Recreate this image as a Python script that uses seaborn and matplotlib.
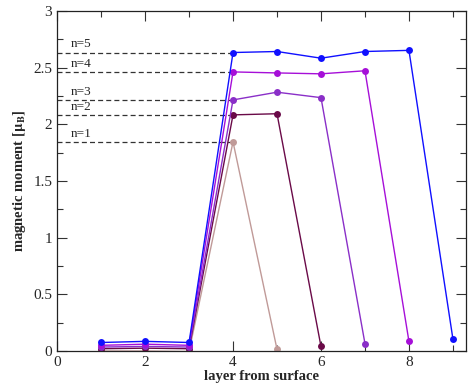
import numpy as np
import pandas as pd
import matplotlib
matplotlib.use("Agg")
from matplotlib import pyplot as plt
from matplotlib.ticker import MultipleLocator
import seaborn as sns

# magnetic moment per layer for slabs with n magnetic layers
layers_n1 = [1, 2, 3, 4, 5]
moment_n1 = [0.0, 0.0, -0.005, 1.845, 0.015]
layers_n2 = [1, 2, 3, 4, 5, 6]
moment_n2 = [0.02, 0.025, 0.02, 2.083, 2.093, 0.04]
layers_n3 = [1, 2, 3, 4, 5, 6, 7]
moment_n3 = [0.035, 0.04, 0.035, 2.215, 2.283, 2.235, 0.065]
layers_n4 = [1, 2, 3, 4, 5, 6, 7, 8]
moment_n4 = [0.05, 0.06, 0.05, 2.462, 2.453, 2.445, 2.472, 0.085]
layers_n5 = [1, 2, 3, 4, 5, 6, 7, 8, 9]
moment_n5 = [0.075, 0.085, 0.075, 2.633, 2.642, 2.583, 2.642, 2.652, 0.105]

labels = ["n=1", "n=2", "n=3", "n=4", "n=5"]
colors = ["#c09a98", "#6a0a48", "#8a2fc8", "#a60fd8", "#1010ff"]

frames = []
for lab, xs, ys in zip(labels,
                       [layers_n1, layers_n2, layers_n3, layers_n4, layers_n5],
                       [moment_n1, moment_n2, moment_n3, moment_n4, moment_n5]):
    frames.append(pd.DataFrame({"layer": xs, "moment": ys, "n": lab}))
df = pd.concat(frames, ignore_index=True)

sns.set_style("ticks")
plt.rcParams["font.family"] = ["Liberation Serif", "DejaVu Serif"]
plt.rcParams["mathtext.fontset"] = "stix"

fig = plt.figure(figsize=(4.68, 3.9), dpi=100)
ax = fig.add_axes([0.122, 0.1, 0.874, 0.872])

sns.lineplot(data=df, x="layer", y="moment", hue="n", palette=dict(zip(labels, colors)),
             marker="o", markersize=5, markeredgewidth=0, linewidth=1.0,
             legend=False, ax=ax, sort=False, estimator=None)

# dashed guides from the axis to the layer-4 value
for lab, ys in zip(labels, [moment_n1, moment_n2, moment_n3, moment_n4, moment_n5]):
    ax.plot([0, 4], [ys[3], ys[3]], ls="--", color="#333333", lw=0.9, dashes=(4, 2.5), zorder=1)
    ax.text(0.32, ys[3] + 0.02, lab, fontsize=9.5, va="bottom", ha="left")

ax.set_xlim(0, 9.3)
ax.set_ylim(0, 3)
ax.xaxis.set_major_locator(MultipleLocator(2))
ax.xaxis.set_minor_locator(MultipleLocator(1))
ax.yaxis.set_major_locator(MultipleLocator(0.5))
ax.yaxis.set_minor_locator(MultipleLocator(0.25))
ax.tick_params(which="both", direction="in", top=True, right=True, labelsize=11, color="#333333")
ax.tick_params(which="major", length=7, width=0.8)
ax.tick_params(which="minor", length=4, width=0.8)
ax.xaxis.set_major_formatter(plt.FuncFormatter(lambda v, p: f"{v:g}"))
ax.yaxis.set_major_formatter(plt.FuncFormatter(lambda v, p: f"{v:g}"))
for s in ax.spines.values():
    s.set_linewidth(0.9)
    s.set_color("#222222")

ax.set_xlabel("layer from surface", fontsize=10.5, fontweight="bold", labelpad=1)
ax.set_ylabel(r"magnetic moment [$\mathbf{\mu_B}$]", fontsize=10.5, fontweight="bold", labelpad=4)

fig.savefig("out.png", dpi=100)
